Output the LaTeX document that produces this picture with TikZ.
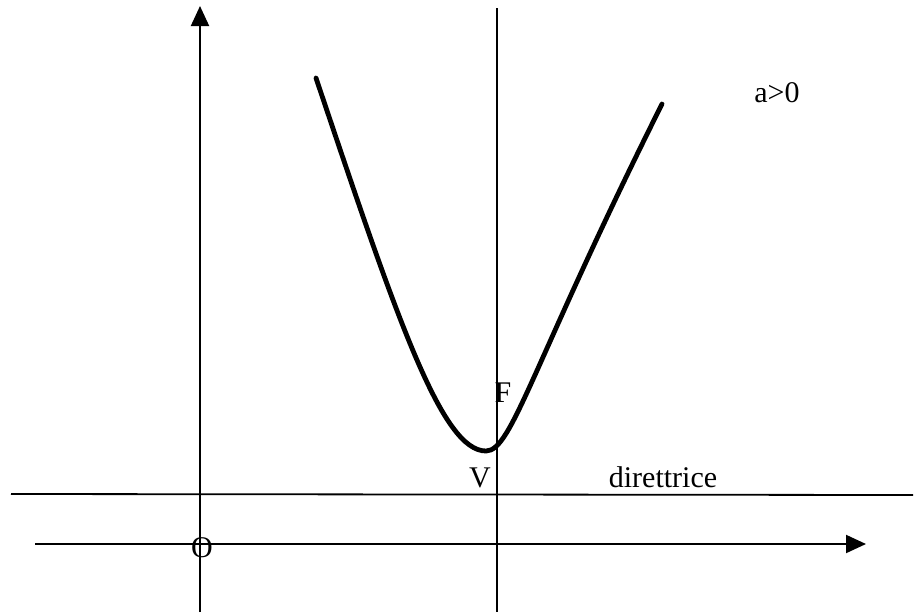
\documentclass[tikz,border=0pt]{standalone}
\usepackage{fontspec}
\setmainfont{Liberation Serif}
\usetikzlibrary{arrows.meta}

\begin{document}
\begin{tikzpicture}[
  x=0.5pt, y=-0.5pt,
  axis/.style={line width=1pt, -{Triangle[length=10pt, width=9pt]}},
  line/.style={line width=0.9pt},
  curve/.style={line width=2.4pt, line cap=round},
  lbl/.style={font=\fontsize{15}{18}\selectfont, inner sep=0pt, anchor=base}
]
  \useasboundingbox (0,0) rectangle (922,612);

  % Axes
  \coordinate (xstart) at (35,544);
  \coordinate (xend) at (866,544);
  \coordinate (ystart) at (200,612);
  \coordinate (yend) at (200,6);
  \draw[axis] (xstart) -- (xend);
  \draw[axis] (ystart) -- (yend);

  % Axis of symmetry and directrix
  \coordinate (symtop) at (497,8);
  \coordinate (symbot) at (497,612);
  \coordinate (dirleft) at (11,494);
  \coordinate (dirright) at (913,495);
  \draw[line] (symtop) -- (symbot);
  \draw[line] (dirleft) -- (dirright);

  % Parabola
  \coordinate (left) at (316,78);
  \coordinate (vertex) at (486,451);
  \coordinate (right) at (662,104);
  \draw[curve] (left) .. controls (398,322) and (442,451) .. (vertex)
               .. controls (512,451) and (532,364) .. (right);

  % Labels
  \node[lbl] (origin) at (202,557) {O};
  \node[lbl] (focus) at (503,402) {F};
  \node[lbl] (vlabel) at (480,487) {V};
  \node[lbl] (dirlabel) at (663,487) {direttrice};
  \node[lbl] (sign) at (777,102) {a>0};
\end{tikzpicture}
\end{document}
